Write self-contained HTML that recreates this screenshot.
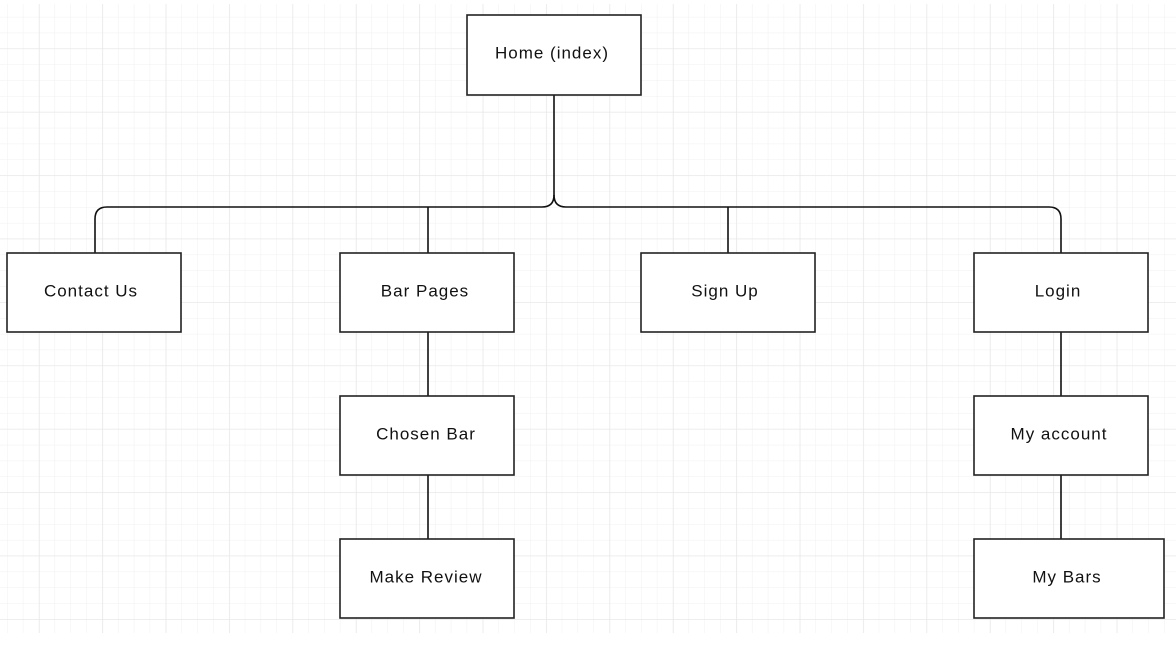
<!DOCTYPE html>
<html><head><meta charset="utf-8"><style>
html,body{margin:0;padding:0;background:#fff;}
svg{display:block;}
text{font-family:"Liberation Sans",sans-serif;font-size:17px;letter-spacing:1px;fill:#111;text-anchor:middle;dominant-baseline:central;}
</style></head><body>
<svg width="1176" height="662" viewBox="0 0 1176 662">
<defs>
<pattern id="minor" x="7" y="1" width="15.85" height="15.85" patternUnits="userSpaceOnUse">
<path d="M0 0V15.85M0 0H15.85" stroke="#f0f0f0" stroke-width="1" fill="none"/>
</pattern>
<pattern id="major" x="39" y="-15" width="63.4" height="63.4" patternUnits="userSpaceOnUse">
<path d="M0 0V63.4M0 0H63.4" stroke="#e6e6e6" stroke-width="1.2" fill="none"/>
</pattern>
</defs>
<rect x="0" y="4" width="1176" height="629" fill="url(#minor)"/>
<rect x="0" y="4" width="1176" height="629" fill="url(#major)"/>
<g stroke="#111" stroke-width="1.6" fill="none">
<path d="M554 95V195Q554 207 542 207H107Q95 207 95 219V253"/>
<path d="M554 195Q554 207 566 207H1049Q1061 207 1061 219V253"/>
<path d="M428 207V253M728 207V253"/>
<path d="M428 332V396M428 475V539M1061 332V396M1061 475V539"/>
</g>
<g stroke="#222" stroke-width="1.6" fill="#fff">
<rect x="467" y="15" width="174" height="80"/>
<rect x="7" y="253" width="174" height="79"/>
<rect x="340" y="253" width="174" height="79"/>
<rect x="641" y="253" width="174" height="79"/>
<rect x="974" y="253" width="174" height="79"/>
<rect x="340" y="396" width="174" height="79"/>
<rect x="340" y="539" width="174" height="79"/>
<rect x="974" y="396" width="174" height="79"/>
<rect x="974" y="539" width="190" height="79"/>
</g>
<text x="552" y="53">Home (index)</text>
<text x="91" y="291">Contact Us</text>
<text x="425" y="291">Bar Pages</text>
<text x="725" y="291">Sign Up</text>
<text x="1058" y="291">Login</text>
<text x="426" y="434">Chosen Bar</text>
<text x="426" y="577">Make Review</text>
<text x="1059" y="434">My account</text>
<text x="1067" y="577">My Bars</text>
</svg>
</body></html>
